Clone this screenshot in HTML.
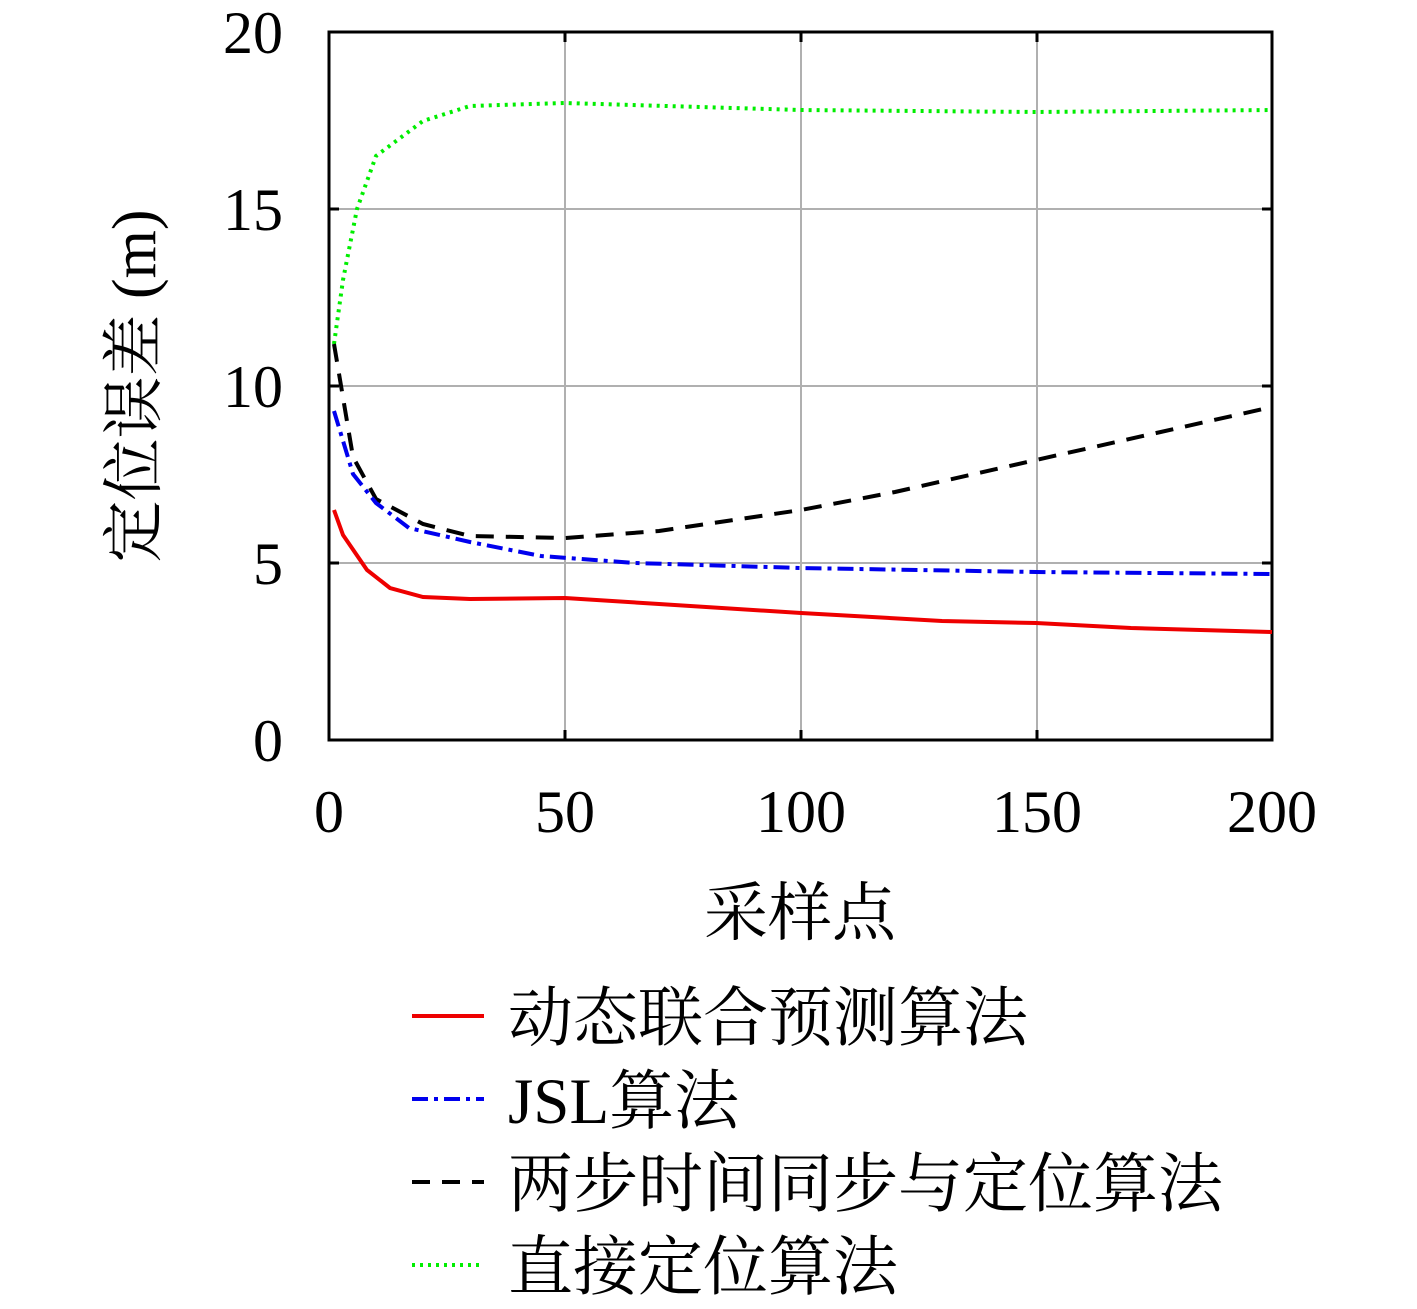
<!DOCTYPE html>
<html><head><meta charset="utf-8"><style>body{margin:0;background:#fff}</style></head><body>
<svg width="1417" height="1304" xmlns="http://www.w3.org/2000/svg" font-family="'Liberation Serif','Noto Serif CJK SC',serif">
<g stroke="#b0b0b0" stroke-width="2">
<line x1="565" y1="32" x2="565" y2="740"/><line x1="801" y1="32" x2="801" y2="740"/><line x1="1037" y1="32" x2="1037" y2="740"/>
<line x1="329" y1="209" x2="1272" y2="209"/><line x1="329" y1="386" x2="1272" y2="386"/><line x1="329" y1="563" x2="1272" y2="563"/>
</g>
<rect x="329" y="32" width="943" height="708" fill="none" stroke="#000" stroke-width="3"/>
<g stroke="#000" stroke-width="3">
<line x1="565" y1="740" x2="565" y2="730"/><line x1="801" y1="740" x2="801" y2="730"/><line x1="1037" y1="740" x2="1037" y2="730"/>
<line x1="565" y1="32" x2="565" y2="42"/><line x1="801" y1="32" x2="801" y2="42"/><line x1="1037" y1="32" x2="1037" y2="42"/>
<line x1="329" y1="209" x2="339" y2="209"/><line x1="329" y1="386" x2="339" y2="386"/><line x1="329" y1="563" x2="339" y2="563"/>
<line x1="1272" y1="209" x2="1262" y2="209"/><line x1="1272" y1="386" x2="1262" y2="386"/><line x1="1272" y1="563" x2="1262" y2="563"/>
</g>
<g fill="none" stroke-width="4">
<path stroke="#00ee00" stroke-dasharray="3,5" d="M334,344 L343,280 L357,209 L376,156 L423,121 L470,106 L565,103 L801,110 L1036,112 L1272,110"/>
<path stroke="#000" stroke-dasharray="18,12" d="M334,344 L353,457 L376,499 L423,524 L470,536 L565,538 L659,531 L801,510 L895,492 L1036,460 L1272,407"/>
<path stroke="#0000ee" stroke-dasharray="16,6,4,6" d="M334,411 L353,474 L376,503 L409,528 L470,542 L541,556 L635,563 L801,568 L1036,572 L1272,574"/>
<path stroke="#ee0000" d="M334,510 L343,535 L367,570 L390,588 L423,597 L470,599 L565,598 L659,604 L801,613 L942,621 L1036,623 L1131,628 L1272,632"/>
</g>
<g font-size="60" text-anchor="middle">
<text x="329" y="832">0</text><text x="565" y="832">50</text><text x="801" y="832">100</text><text x="1037" y="832">150</text><text x="1272" y="832">200</text>
</g>
<g font-size="60" text-anchor="end">
<text x="283" y="53">20</text><text x="283" y="230">15</text><text x="283" y="407">10</text><text x="283" y="584">5</text><text x="283" y="761">0</text>
</g>
<text x="800" y="935" font-size="64" text-anchor="middle">采样点</text>
<text transform="translate(155,386) rotate(-90)" font-size="62" text-anchor="middle">定位误差 (m)</text>
<g stroke-width="4">
<line x1="412" y1="1016" x2="484" y2="1016" stroke="#ee0000"/>
<line x1="412" y1="1099" x2="484" y2="1099" stroke="#0000ee" stroke-dasharray="16,6,4,6"/>
<line x1="412" y1="1182" x2="484" y2="1182" stroke="#000" stroke-dasharray="18,12"/>
<line x1="412" y1="1265" x2="484" y2="1265" stroke="#00ee00" stroke-dasharray="3,5"/>
</g>
<g font-size="65">
<text x="508" y="1040">动态联合预测算法</text>
<text x="508" y="1123">JSL算法</text>
<text x="508" y="1206">两步时间同步与定位算法</text>
<text x="508" y="1289">直接定位算法</text>
</g>
</svg>
</body></html>
